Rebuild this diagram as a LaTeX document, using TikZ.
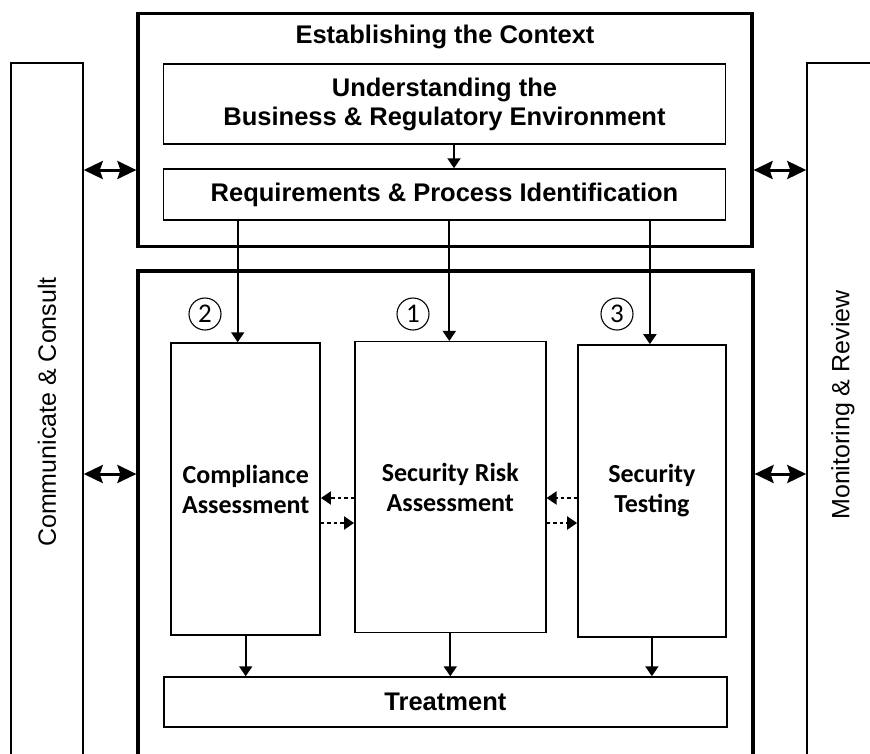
\documentclass[tikz,border=0pt]{standalone}
\usepackage{fontspec}
\setmainfont{Liberation Sans}
\newfontfamily\calfont{Carlito}
\usetikzlibrary{arrows.meta}

\begin{document}
\begin{tikzpicture}[x=1pt,y=-1pt,
  frame/.style={draw,line width=3.2pt,inner sep=0pt},
  box/.style={draw,line width=1.5pt,inner sep=0pt,align=center,font=\bfseries\fontsize{25.5}{29}\selectfont},
  col/.style={box,font=\calfont\bfseries\fontsize{26}{30}\selectfont},
  pillar/.style={draw,line width=1.5pt,inner sep=0pt},
  side/.style={rotate=90,font=\fontsize{25}{25}\selectfont},
  num/.style={draw,circle,line width=1.1pt,minimum size=32pt,inner sep=0pt,font=\calfont\fontsize{27}{27}\selectfont},
  flow/.style={-{Triangle[length=10pt,width=13pt]},line width=2pt},
  dflow/.style={flow,dash pattern=on 3.5pt off 3pt},
  both/.style={{Stealth[length=19pt,width=18pt,inset=3pt]}-{Stealth[length=19pt,width=18pt,inset=3pt]},line width=3pt}]
 \clip (0,0) rectangle (870,753);
 % side columns
 \node[pillar,minimum width=72pt,minimum height=698pt] (comm) at (47,412) {};
 \node[side] (commtext) at (comm) {Communicate \& Consult};
 \node[pillar,minimum width=72pt,minimum height=698pt] (mon) at (843,412) {};
 \node[side] (montext) at (843,405) {Monitoring \& Review};
 % context
 \node[frame,minimum width=614pt,minimum height=233pt] (ctx) at (445,130) {};
 \node[font=\bfseries\fontsize{25.5}{25}\selectfont] (title) at (445,37) {Establishing the Context};
 \node[box,minimum width=562pt,minimum height=80pt] (env) at (444.5,104) {Understanding the\\Business \& Regulatory Environment};
 \node[box,minimum width=562pt,minimum height=51pt] (req) at (444.5,194.5) {Requirements \& Process Identification};
 % assessment
 \node[frame,minimum width=615pt,minimum height=519pt] (main) at (445.5,530.5) {};
 \node[col,minimum width=149pt,minimum height=292pt] (comp) at (245.7,489) {Compliance\\Assessment};
 \node[col,minimum width=191pt,minimum height=291pt] (sra) at (450.3,487.2) {Security Risk\\Assessment};
 \node[col,minimum width=148pt,minimum height=292pt] (test) at (651.9,490.9) {Security\\Testing};
 \node[box,minimum width=563pt,minimum height=50pt] (treat) at (445.4,702) {Treatment};
 \node[num] (n2) at (205,314) {2};
 \node[num] (n1) at (413,314) {1};
 \node[num] (n3) at (617,314) {3};
 % arrows
 \coordinate (r1) at (0,170);
 \coordinate (r2) at (0,474);
 \coordinate (d1) at (0,498);
 \coordinate (d2) at (0,523);
 \draw[flow] ([xshift=9.5pt]env.south) -- ([xshift=9.5pt]req.north);
 \draw[flow] ([xshift=-8pt]comp.north |- req.south) -- ([xshift=-8pt]comp.north);
 \draw[flow] ([xshift=-1pt]sra.north |- req.south) -- ([xshift=-1pt]sra.north);
 \draw[flow] ([xshift=-2pt]test.north |- req.south) -- ([xshift=-2pt]test.north);
 \draw[flow] (comp.south) -- (comp.south |- treat.north);
 \draw[flow] (sra.south) -- (sra.south |- treat.north);
 \draw[flow] (test.south) -- (test.south |- treat.north);
 \draw[dflow] (sra.west |- d1) -- (comp.east |- d1);
 \draw[dflow] (comp.east |- d2) -- (sra.west |- d2);
 \draw[dflow] (test.west |- d1) -- (sra.east |- d1);
 \draw[dflow] (sra.east |- d2) -- (test.west |- d2);
 \draw[both] (comm.east |- r1) -- (ctx.west |- r1);
 \draw[both] (ctx.east |- r1) -- (mon.west |- r1);
 \draw[both] (comm.east |- r2) -- (main.west |- r2);
 \draw[both] (main.east |- r2) -- (mon.west |- r2);
\end{tikzpicture}
\end{document}
